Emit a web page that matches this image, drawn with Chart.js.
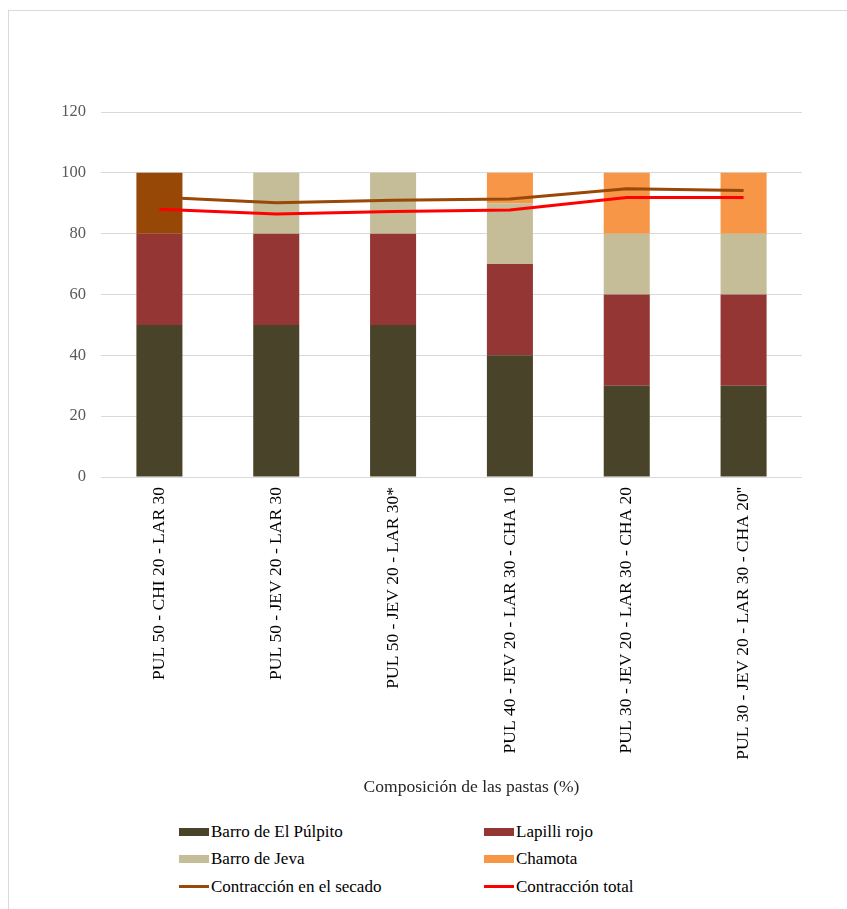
<!DOCTYPE html>
<html>
<head>
<meta charset="utf-8">
<script src="https://cdn.jsdelivr.net/npm/chart.js@4.4.1/dist/chart.umd.min.js"></script>
<style>
  html, body { margin: 0; padding: 0; background: #fff; }
  #wrap { position: relative; width: 847px; height: 909px; overflow: hidden; font-family: "Liberation Serif", "Times New Roman", serif; }
  #frame { position: absolute; left: 8px; top: 10px; width: 900px; height: 950px; border: 1px solid #d9d9d9; box-sizing: border-box; }
  #c { position: absolute; left: 0; top: 0; }
  #legend { position: absolute; left: 179px; top: 818px; display: grid; grid-template-columns: 305px 250px; grid-auto-rows: 27.5px; }
  .li { display: flex; align-items: center; font-size: 17px; color: #000; white-space: nowrap; }
  .sw { width: 30px; margin-right: 2px; flex: none; }
</style>
</head>
<body>
<div id="wrap">
  <div id="frame"></div>
  <canvas id="c" width="847" height="810"></canvas>
  <div id="legend"></div>
</div>
<script>
const categories = [
  "PUL 50 - CHI 20 - LAR 30",
  "PUL 50 - JEV 20 - LAR 30",
  "PUL 50 - JEV 20 - LAR 30*",
  "PUL 40 - JEV 20 - LAR 30 - CHA 10",
  "PUL 30 - JEV 20 - LAR 30 - CHA 20",
  "PUL 30 - JEV 20 - LAR 30 - CHA 20''"
];
const barroPulpito = [50, 50, 50, 40, 30, 30];
const lapilliRojo  = [30, 30, 30, 30, 30, 30];
const barroChio    = [20, 0, 0, 0, 0, 0];
const barroJeva    = [0, 20, 20, 20, 20, 20];
const chamota      = [0, 0, 0, 10, 20, 20];
const contraccionSecado = [92.0, 90.2, 91.0, 91.4, 94.8, 94.2];
const contraccionTotal  = [88.0, 86.5, 87.3, 87.8, 91.9, 91.9];
const yTicks = [0, 20, 40, 60, 80, 100, 120];
const xTitle = "Composición de las pastas (%)";

const SERIF = '"Liberation Serif", "Times New Roman", serif';

const barCommon = { type: 'bar', stack: 'comp', order: 2, categoryPercentage: 1.0, barPercentage: 0.394, borderWidth: 0 };
const datasets = [
  Object.assign({ label: 'Barro de El Púlpito', data: barroPulpito, backgroundColor: '#494429' }, barCommon),
  Object.assign({ label: 'Lapilli rojo', data: lapilliRojo, backgroundColor: '#943634' }, barCommon),
  Object.assign({ label: 'CHI', data: barroChio, backgroundColor: '#974706', hideInLegend: true }, barCommon),
  Object.assign({ label: 'Barro de Jeva', data: barroJeva, backgroundColor: '#c4bd97' }, barCommon),
  Object.assign({ label: 'Chamota', data: chamota, backgroundColor: '#f79646' }, barCommon),
  { type: 'line', label: 'Contracción en el secado', data: contraccionSecado, borderColor: '#984807', backgroundColor: '#984807', borderWidth: 3, pointRadius: 0, tension: 0, stack: 'l1', order: 1, fill: false },
  { type: 'line', label: 'Contracción total', data: contraccionTotal, borderColor: '#ff0000', backgroundColor: '#ff0000', borderWidth: 3, pointRadius: 0, tension: 0, stack: 'l2', order: 0, fill: false }
];

const axisTitlePlugin = {
  id: 'axisTitle',
  afterDraw(chart) {
    const ctx = chart.ctx;
    const a = chart.chartArea;
    ctx.save();
    ctx.font = '17.5px ' + SERIF;
    ctx.fillStyle = '#262626';
    ctx.textAlign = 'center';
    ctx.textBaseline = 'middle';
    ctx.fillText(xTitle, (a.left + a.right) / 2 + 20, 787);
    ctx.restore();
  }
};

const chart = new Chart(document.getElementById('c'), {
  data: { labels: categories, datasets },
  plugins: [axisTitlePlugin],
  options: {
    responsive: false,
    animation: false,
    layout: { padding: { left: 0, right: 45, top: 112, bottom: 10 } },
    plugins: { legend: { display: false }, tooltip: { enabled: false } },
    scales: {
      x: {
        stacked: true,
        offset: true,
        grid: { display: false, drawTicks: false },
        border: { display: false },
        ticks: { autoSkip: false, minRotation: 90, maxRotation: 90, padding: 10, color: '#000', font: { family: SERIF, size: 17.5 } },
        afterFit(s) { s.height = 323; }
      },
      y: {
        stacked: true,
        min: 0, max: 120,
        afterBuildTicks(s) { s.ticks = yTicks.map(v => ({ value: v })); },
        grid: { color: '#d9d9d9', lineWidth: 1, drawTicks: false },
        border: { display: false },
        ticks: { padding: 15, color: '#595959', font: { family: SERIF, size: 16.5 } },
        afterFit(s) { s.width = 101; }
      }
    }
  }
});

const legendEl = document.getElementById('legend');
chart.data.datasets.filter(d => !d.hideInLegend).forEach(d => {
  const item = document.createElement('div');
  item.className = 'li';
  const sw = document.createElement('span');
  sw.className = 'sw';
  sw.style.height = d.type === 'line' ? '3px' : '8px';
  sw.style.background = d.type === 'line' ? d.borderColor : d.backgroundColor;
  const tx = document.createElement('span');
  tx.textContent = d.label;
  item.appendChild(sw);
  item.appendChild(tx);
  legendEl.appendChild(item);
});
</script>
</body>
</html>
